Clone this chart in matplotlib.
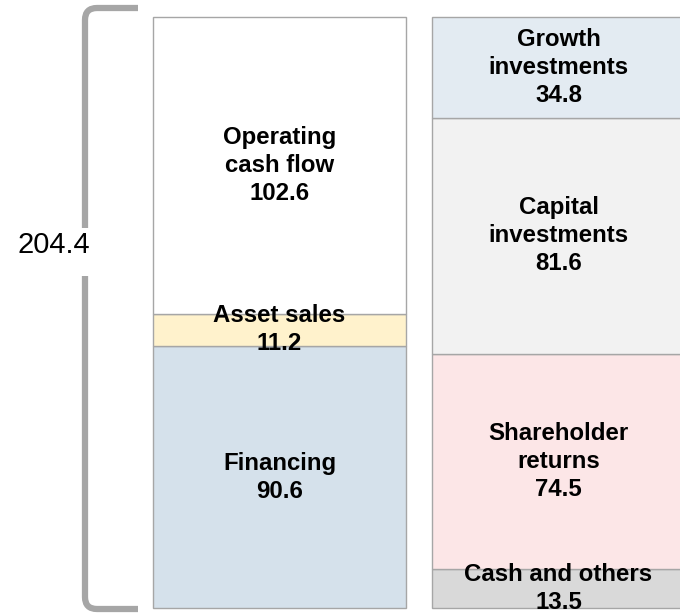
import matplotlib
matplotlib.use("Agg")
import matplotlib.pyplot as plt
from matplotlib.path import Path
from matplotlib.patches import PathPatch

plt.rcParams['font.family'] = ['Liberation Sans', 'DejaVu Sans']

# Data
sources_labels = ["Financing", "Asset sales", "Operating\ncash flow"]
sources_values = [90.6, 11.2, 102.6]
sources_colors = ["#D5E1EB", "#FFF2CC", "#FFFFFF"]

uses_labels = ["Cash and others", "Shareholder\nreturns", "Capital\ninvestments", "Growth\ninvestments"]
uses_values = [13.5, 74.5, 81.6, 34.8]
uses_colors = ["#D9D9D9", "#FCE6E7", "#F2F2F2", "#E3EBF2"]

total_label = "204.4"
total = sum(sources_values)

W, H = 680, 614
fig = plt.figure(figsize=(W / 100, H / 100), dpi=100)
y0_px, y1_px = 608, 17
ax = fig.add_axes([0, (H - y0_px) / H, 1, (y0_px - y1_px) / H])
ax.set_xlim(0, W)
ax.set_ylim(0, total)
ax.axis('off')

px_per_unit = (y0_px - y1_px) / total

def stack(xc, width, labels, values, colors):
    bottom = 0
    for lab, val, col in zip(labels, values, colors):
        ax.bar(xc, val, width=width, bottom=bottom, color=col,
               edgecolor="#A6A6A6", linewidth=1.0, clip_on=False)
        ax.text(xc, bottom + val / 2, f"{lab}\n{val:.1f}", ha='center', va='center',
                fontsize=17.3, fontweight='bold', color='#000000', linespacing=1.28)
        bottom += val

stack(279.5, 253, sources_labels, sources_values, sources_colors)
stack(558.5, 253, uses_labels, uses_values, uses_colors)

# Bracket
xb = 85
xe = 138
rx = 12
ry = rx / px_per_unit
ytop = total + 9 / px_per_unit
ybot = -1 / px_per_unit
gap_top = (y0_px - 228) / px_per_unit
gap_bot = (y0_px - 276) / px_per_unit

verts = [(xe, ytop), (xb + rx, ytop), (xb, ytop), (xb, ytop - ry), (xb, gap_top)]
codes = [Path.MOVETO, Path.LINETO, Path.CURVE3, Path.CURVE3, Path.LINETO]
ax.add_patch(PathPatch(Path(verts, codes), fill=False, edgecolor="#A6A6A6",
                       linewidth=4.5, capstyle='butt', clip_on=False))
verts = [(xb, gap_bot), (xb, ybot + ry), (xb, ybot), (xb + rx, ybot), (xe, ybot)]
codes = [Path.MOVETO, Path.LINETO, Path.CURVE3, Path.CURVE3, Path.LINETO]
ax.add_patch(PathPatch(Path(verts, codes), fill=False, edgecolor="#A6A6A6",
                       linewidth=4.5, capstyle='butt', clip_on=False))

ax.text(54, (y0_px - 245) / px_per_unit, total_label, ha='center', va='center',
        fontsize=21, color='#000000')

fig.savefig("out.png", dpi=100)
